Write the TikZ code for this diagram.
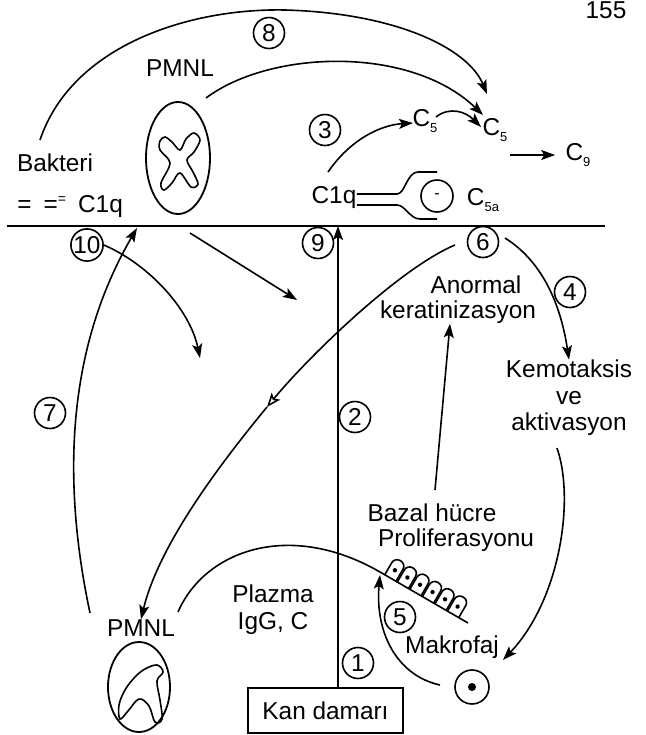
\documentclass[tikz,border=0pt]{standalone}
\usepackage{fontspec}
\setmainfont{Liberation Sans}
\usetikzlibrary{arrows.meta, positioning, shapes.geometric}

% small lowered index, as in C5
\newcommand{\csub}[1]{\raisebox{-0.45ex}{\fontsize{6.5}{6.5}\selectfont #1}}

\begin{document}
\begin{tikzpicture}[
    x=0.5pt, y=-0.5pt,
    >=Stealth,
    every node/.style={font=\fontsize{12.2}{13.4}\selectfont, inner sep=0pt},
    lbl/.style={align=center},
    num/.style={draw, circle, line width=0.8pt, minimum size=15.5pt, inner sep=0pt},
    wire/.style={line width=0.8pt},
    arr/.style={-{Stealth[length=7pt, width=5pt, inset=1.5pt]}, line width=0.8pt},
    oarr/.style={-{Stealth[open, length=7pt, width=5.5pt, inset=1.5pt]}, line width=0.8pt},
    cell/.style={draw, ellipse, line width=0.9pt},
]
\useasboundingbox (0,0) rectangle (646,735);

% === Page number ===
\node[anchor=base] (pg) at (606,18) {155};

% === Membrane ===
\coordinate (mL) at (7,226);
\coordinate (mR) at (605,226);
\draw[line width=1pt] (mL) -- (mR);

% === Upper side: bacteria, PMNL, complement ===
\node (bakteri) at (55,163) {Bakteri};
\node[anchor=west] (c1qL) at (17,207) {=\hspace{6pt}=\raisebox{0.7ex}{\fontsize{7}{7}\selectfont =}\hspace{6pt}C1q};

\node (pmnlT) at (180,68) {PMNL};
\node[cell, minimum width=32pt, minimum height=56pt] (cellT) at (178,158) {};
\draw[wire] plot[smooth cycle, tension=0.55] coordinates {
    (165,137) (172,142) (180,150) (186,139) (194,133) (200,140)
    (194,152) (187,160) (193,172) (198,184) (191,187) (180,173)
    (172,183) (164,190) (161,183) (170,163) (160,150) (160,141)};

\node[num] (n8) at (269,33) {8};
\node[num] (n3) at (325,130) {3};

\node (c5a) at (425,121) {C\csub{5}};
\node (c5b) at (495,130) {C\csub{5}};
\node (c9) at (578,155) {C\csub{9}};
\node (c5al) at (483,200) {C\csub{5a}};

\node (c1qR) at (334,198) {C1q};
\node[draw, circle, line width=0.8pt, minimum size=16pt] (rec) at (437,196) {\fontsize{8}{8}\selectfont -};

% receptor arms round the C5a
\draw[wire] (c1qR.east |- 0,194) -- (397,194) .. controls (405,194) and (407,172) .. (418,172) -- (437,172);
\draw[wire] (c1qR.east |- 0,205) -- (397,205) .. controls (405,205) and (410,219) .. (420,219) -- (437,219);

% arcs towards C5
\coordinate (a8s) at (40,140);
\coordinate (a8e) at (487,94);
\draw[arr] (a8s) .. controls (72,45) and (190,8) .. (285,10) .. controls (395,13) and (468,48) .. (a8e);

\coordinate (apS) at (206,98);
\coordinate (apE) at (483,115);
\draw[arr] (apS) .. controls (270,50) and (410,45) .. (apE);

\coordinate (a3s) at (328,172);
\coordinate (a3e) at (413,123);
\draw[arr] (a3s) .. controls (350,140) and (380,125) .. (a3e);

\coordinate (c5s) at (436,117);
\coordinate (c5e) at (481,127);
\draw[arr] (c5s) .. controls (450,106) and (466,112) .. (c5e);

\coordinate (c9s) at (510,155);
\draw[arr] (c9s) -- ([xshift=-5pt]c9.west);

% === Lower side ===
\node[num] (n10) at (87,245) {10};
\node[num] (n9) at (318,243) {9};
\node[num] (n6) at (483,242) {6};
\node[num] (n4) at (570,292) {4};
\node[num] (n7) at (50,413) {7};
\node[num] (n2) at (355,417) {2};
\node[num] (n5) at (400,617) {5};
\node[num] (n1) at (358,663) {1};

\node (anormal) at (476,285) {Anormal};
\node (kerat) at (458,312) {keratinizasyon};
\node[lbl, font=\fontsize{12.2}{13.3}\selectfont] (kemo) at (569,398) {Kemotaksis\\ve\\aktivasyon};
\node (bazal) at (432,513) {Bazal hücre};
\node (prolif) at (456,540) {Proliferasyonu};
\node (makrofaj) at (452,647) {Makrofaj};
\node[lbl] (plazma) at (273,610) {Plazma\\IgG, C};
\node (pmnlB) at (141,628) {PMNL};

\node[cell, minimum width=31pt, minimum height=45pt] (cellB) at (139,687) {};
\draw[wire] plot[smooth cycle, tension=0.6] coordinates {
    (145,669) (157,665) (163,672) (157,681) (160,700) (162,719)
    (155,722) (149,706) (139,699) (128,711) (120,719) (119,705)
    (125,690) (135,677)};

\node[draw, circle, line width=0.8pt, minimum size=17pt] (makro) at (472,687) {};
\fill (makro.center) circle (2pt);

\node[draw, line width=0.8pt, minimum width=77.5pt, minimum height=22.5pt] (kan) at (325.5,710.5) {Kan damarı};

% vessel up to the membrane (1, 2, 9)
\coordinate (v9) at (338,226);
\draw[arr] (kan.north -| v9) -- (v9);

% 7: PMNL back to C1q
\coordinate (a7s) at (90,613);
\coordinate (a7e) at (137,228);
\draw[arr] (a7s) .. controls (66,500) and (60,360) .. (a7e);

% 10
\coordinate (a10e) at (200,358);
\draw[arr] (n10.east) .. controls (150,265) and (190,310) .. (a10e);

\coordinate (asS) at (190,233);
\coordinate (asE) at (297,300);
\draw[arr] (asS) -- (asE);

% 6: down to the PMNL
\coordinate (a6s) at (455,245);
\coordinate (a6m) at (267,407);
\draw[oarr] (a6s) .. controls (400,268) and (310,355) .. (a6m);
\draw[arr] (a6m) .. controls (230,452) and (160,540) .. (pmnlB.north);

% 4
\coordinate (a4s) at (505,238);
\draw[arr] (a4s) .. controls (540,260) and (560,300) .. (kemo.north);

\coordinate (akS) at (557,448);
\coordinate (akE) at (503,660);
\draw[arr] (akS) .. controls (575,500) and (560,600) .. (akE);

% 5
\coordinate (a5s) at (440,685);
\coordinate (a5e) at (380,575);
\draw[arr] (a5s) .. controls (395,675) and (375,630) .. (a5e);

\coordinate (abS) at (435,490);
\draw[arr] (abS) -- (kerat.south -| 450,0);

% plasma line and basal layer
\coordinate (plS) at (178,612);
\coordinate (bl1) at (380,572);
\coordinate (bl2) at (468,623);
\draw[wire] (plS) .. controls (205,550) and (290,520) .. (bl1) -- (bl2);

\begin{scope}[shift={(bl1)}, rotate=-30.1]
  \foreach \c in {12,26.5,41,55.5,70,84.5} {
    \draw[wire, rounded corners=3pt] (\c-6.5,0) -- (\c-6.5,-20) -- (\c+6.5,-20) -- (\c+6.5,0);
    \fill (\c,-9) circle (1.1pt);
  }
\end{scope}

\end{tikzpicture}
\end{document}
